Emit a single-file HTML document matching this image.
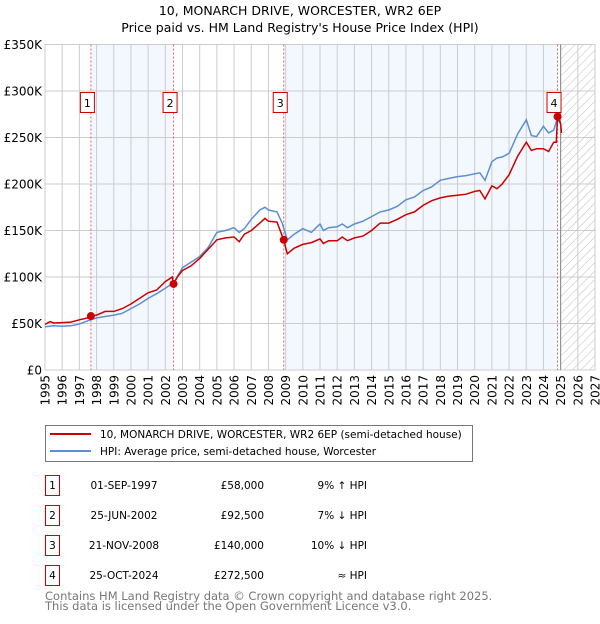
<!DOCTYPE html>
<html><head><meta charset="utf-8"><style>
body{margin:0;background:#fff;font-family:"DejaVu Sans","Liberation Sans",sans-serif;}
svg text{font-family:"DejaVu Sans","Liberation Sans",sans-serif;}
</style></head><body>
<svg id="chart" width="600" height="620" viewBox="0 0 600 620" xmlns="http://www.w3.org/2000/svg">
<defs><pattern id="hatch" patternUnits="userSpaceOnUse" width="6" height="6" patternTransform="rotate(45)"><line x1="0" y1="0" x2="0" y2="6" stroke="#bbb" stroke-width="1"/></pattern></defs>
<text x="300" y="15" text-anchor="middle" font-size="12.5">10, MONARCH DRIVE, WORCESTER, WR2 6EP</text>
<text x="300" y="32" text-anchor="middle" font-size="12.5">Price paid vs. HM Land Registry's House Price Index (HPI)</text>
<g id="plot"></g>
<g>
<rect x="45.5" y="425.5" width="427" height="36" fill="#fff" stroke="#777"/>
<line x1="50" y1="434" x2="91" y2="434" stroke="#cc0000" stroke-width="2"/>
<text x="100" y="438" font-size="10.5">10, MONARCH DRIVE, WORCESTER, WR2 6EP (semi-detached house)</text>
<line x1="50" y1="451" x2="91" y2="451" stroke="#5b8fd4" stroke-width="2"/>
<text x="100" y="455" font-size="10.5">HPI: Average price, semi-detached house, Worcester</text>
</g>
<g id="table" font-size="10.5"></g>
<text x="45" y="600" font-size="11.5" fill="#777">Contains HM Land Registry data © Crown copyright and database right 2025.</text>
<text x="45" y="610" font-size="11.5" fill="#777">This data is licensed under the Open Government Licence v3.0.</text>
</svg>
<script>
const yearTicks=[1995,1996,1997,1998,1999,2000,2001,2002,2003,2004,2005,2006,2007,2008,2009,2010,2011,2012,2013,2014,2015,2016,2017,2018,2019,2020,2021,2022,2023,2024,2025,2026,2027];
const valueTicks=[0,50000,100000,150000,200000,250000,300000,350000];
const valueLabels=["£0","£50K","£100K","£150K","£200K","£250K","£300K","£350K"];
const hpiYears=[1995,1995.5,1996,1996.5,1997,1997.5,1998,1998.5,1999,1999.5,2000,2000.5,2001,2001.5,2002,2002.5,2003,2003.5,2004,2004.5,2005,2005.5,2006,2006.3,2006.6,2007,2007.5,2007.8,2008,2008.5,2008.8,2009.1,2009.5,2010,2010.5,2011,2011.2,2011.5,2012,2012.3,2012.6,2013,2013.5,2014,2014.5,2015,2015.5,2016,2016.5,2017,2017.5,2018,2018.5,2019,2019.5,2020,2020.3,2020.6,2021,2021.3,2021.6,2022,2022.5,2023,2023.3,2023.6,2024,2024.3,2024.6,2024.8,2025];
const hpiValues=[46500,47500,47000,47500,49500,53000,56000,57500,59000,61000,66000,71000,77000,82000,88000,94000,110000,116000,122000,132000,148000,150000,153000,148000,152000,162000,172000,175000,172000,170000,158000,140000,146000,152000,148000,157000,150000,153000,154000,157000,153000,157000,160000,165000,170000,172000,176000,183000,186000,193000,197000,204000,206000,208000,209000,211000,212000,204000,224000,228000,229000,233000,254000,269000,252000,251000,262000,255000,258000,270000,265000];
const priceYears=[1995,1995.3,1995.5,1996,1996.5,1997,1997.5,1997.67,1998,1998.5,1999,1999.5,2000,2000.5,2001,2001.5,2002,2002.4,2002.48,2002.7,2003,2003.5,2004,2004.5,2005,2005.5,2006,2006.3,2006.6,2007,2007.5,2007.8,2008,2008.5,2008.89,2009.1,2009.5,2010,2010.5,2011,2011.2,2011.5,2012,2012.3,2012.6,2013,2013.5,2014,2014.5,2015,2015.5,2016,2016.5,2017,2017.5,2018,2018.5,2019,2019.5,2020,2020.3,2020.6,2021,2021.3,2021.6,2022,2022.5,2023,2023.3,2023.6,2024,2024.3,2024.6,2024.75,2024.82,2025,2025.05];
const priceValues=[49000,52000,50500,51000,51500,54000,56000,58000,59000,63000,63000,66000,71000,77000,83000,86000,95000,100000,92500,100000,107000,112000,120000,130000,140000,142000,143000,138000,146000,150000,158000,163000,160000,159000,140000,125000,131000,135000,137000,141000,136000,139000,139000,143000,139000,142000,144000,150000,158000,158000,162000,167000,170000,177000,182000,185000,187000,188000,189000,192000,193000,184000,198000,195000,200000,210000,230000,245000,236000,238000,238000,235000,245000,245000,272500,265000,255000];
const saleYears=[1997.67,2002.48,2008.89,2024.82];
const saleValues=[58000,92500,140000,272500];
const saleDates=["01-SEP-1997","25-JUN-2002","21-NOV-2008","25-OCT-2024"];
const salePrices=["£58,000","£92,500","£140,000","£272,500"];
const saleHpi=["9% ↑ HPI","7% ↓ HPI","10% ↓ HPI","≈ HPI"];

const NS="http://www.w3.org/2000/svg";
const L=45,R=595,T=44.5,B=370,X0=1995,X1=2027,YMAX=350000;
const xs=v=>L+(v-X0)/(X1-X0)*(R-L);
const ys=v=>B-v/YMAX*(B-T);
const plot=document.getElementById('plot');
function mk(tag,attrs,parent){const e=document.createElementNS(NS,tag);for(const k in attrs)e.setAttribute(k,attrs[k]);(parent||plot).appendChild(e);return e;}

let r=mk('rect',{x:L,y:T,width:R-L,height:B-T,fill:'#fff'});


let s1=mk('rect',{x:xs(saleYears[0]),y:T,width:xs(saleYears[1])-xs(saleYears[0]),height:B-T,fill:'#f3f7fe'});


let s2=mk('rect',{x:xs(saleYears[2]),y:T,width:xs(saleYears[3])-xs(saleYears[2]),height:B-T,fill:'#f3f7fe'});


let h=mk('rect',{x:xs(2025),y:T,width:R-xs(2025),height:B-T,fill:'url(#hatch)'});



yearTicks.forEach(y=>{
 const g=mk('line',{x1:xs(y),y1:T,x2:xs(y),y2:B,stroke:'#ccc','stroke-width':1});
 
 
 const t=mk('text',{x:0,y:0,'font-size':12,'text-anchor':'end',transform:`translate(${xs(y)+4.5},${B+5}) rotate(-90)`});
 t.textContent=y;
 
 
});
valueTicks.forEach((v,i)=>{
 const g=mk('line',{x1:L,y1:ys(v),x2:R,y2:ys(v),stroke:'#ccc','stroke-width':1});
 
 
 const t=mk('text',{x:L-3,y:ys(v)+4.5,'font-size':12,'text-anchor':'end'});
 t.textContent=valueLabels[i];
 
 
});
let b=mk('rect',{x:L,y:T,width:R-L,height:B-T,fill:'none',stroke:'#ccc'});


let nl=mk('line',{x1:xs(2025),y1:T,x2:xs(2025),y2:B,stroke:'#888','stroke-width':1});



saleYears.forEach((y,i)=>{
 const l=mk('line',{x1:xs(y),y1:T,x2:xs(y),y2:B,stroke:'#e06060','stroke-width':1,'stroke-dasharray':'2,2'});
 
 
});
const pts=(xa,va)=>xa.map((x,i)=>xs(x).toFixed(1)+','+ys(va[i]).toFixed(1)).join(' ');
let hl=mk('polyline',{points:pts(hpiYears,hpiValues),fill:'none',stroke:'#5b8fd4','stroke-width':1.5});


let pl=mk('polyline',{points:pts(priceYears,priceValues),fill:'none',stroke:'#cc0000','stroke-width':1.5});


saleYears.forEach((y,i)=>{
 const c=mk('circle',{cx:xs(y),cy:ys(saleValues[i]),r:4,fill:'#cc0000'});
 
 
 const bx=mk('rect',{x:xs(y)-10.5,y:92.5,width:14,height:20,fill:'#fff',stroke:'#cc0000'});
 
 
 const t=mk('text',{x:xs(y)-3.5,y:107,'font-size':11,'text-anchor':'middle'});
 t.textContent=i+1;
 
 
});

const tbl=document.getElementById('table');
saleDates.forEach((d,i)=>{
 const y0=475+i*30;
 const bx=mk('rect',{x:45.5,y:y0+0.5,width:14,height:20,fill:'#fff',stroke:'#cc0000'},tbl);
 
 
 const n=mk('text',{x:52.5,y:y0+14,'text-anchor':'middle'},tbl);n.textContent=i+1;
 
 
 const a=mk('text',{x:124,y:y0+14,'text-anchor':'middle'},tbl);a.textContent=d;
 
 
 const p=mk('text',{x:264,y:y0+14,'text-anchor':'end'},tbl);p.textContent=salePrices[i];
 
 
 const q=mk('text',{x:367,y:y0+14,'text-anchor':'end'},tbl);q.textContent=saleHpi[i];
 
 
});
</script>
</body></html>
